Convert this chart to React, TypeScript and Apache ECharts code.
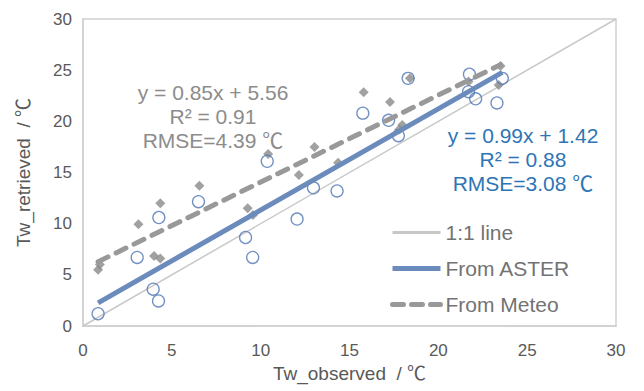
import React, { useEffect, useRef } from "react";
import * as echarts from "echarts";

const asterObserved = [0.85, 3.05, 3.95, 4.25, 4.27, 6.5, 9.15, 9.55, 10.37, 12.05, 12.97, 14.3, 15.75, 17.2, 17.75, 18.3, 21.75, 21.7, 22.1, 23.3, 23.6];
const asterRetrieved = [1.2, 6.7, 3.6, 2.45, 10.6, 12.15, 8.65, 6.7, 16.1, 10.45, 13.5, 13.2, 20.8, 20.1, 18.6, 24.2, 24.6, 22.9, 22.2, 21.8, 24.2];

const meteoObserved = [0.85, 0.95, 3.12, 4.0, 4.35, 4.35, 6.55, 9.27, 9.57, 10.42, 12.15, 13.03, 14.36, 15.8, 17.28, 17.8, 17.97, 18.4, 21.7, 23.4, 23.5];
const meteoRetrieved = [5.5, 6.0, 9.95, 6.85, 6.6, 12.0, 13.7, 11.5, 10.85, 16.8, 14.75, 17.5, 15.95, 22.85, 21.9, 19.2, 19.65, 24.2, 23.9, 23.55, 25.4];

const asterFit = { slope: 0.99, intercept: 1.42 };
const meteoFit = { slope: 0.85, intercept: 5.56 };

const oneToOne = [0, 30];
const ticks = { min: 0, max: 30, interval: 5 };

const grayText = ["y = 0.85x + 5.56", "R² = 0.91", "RMSE=4.39 ℃"];
const blueText = ["y = 0.99x + 1.42", "R² = 0.88", "RMSE=3.08 ℃"];

const FONT = "'Liberation Sans', Arial, 'Noto Sans CJK SC', sans-serif";

function fitLine(xs: number[], fit: { slope: number; intercept: number }) {
  const lo = Math.min(...xs);
  const hi = Math.max(...xs);
  return [lo, hi].map((x) => [x, fit.slope * x + fit.intercept]);
}

export default function App() {
  const ref = useRef<HTMLDivElement>(null);
  useEffect(() => {
    if (!ref.current) return;
    const chart = echarts.init(ref.current, undefined, { renderer: "svg" });
    const axisCommon = {
      type: "value" as const,
      min: ticks.min,
      max: ticks.max,
      interval: ticks.interval,
      splitLine: { show: false },
      axisTick: { show: false },
      axisLine: { show: true, lineStyle: { color: "#d0d0d0", width: 1.5 } },
      nameLocation: "middle" as const,
      nameTextStyle: { fontSize: 19, color: "#595959", fontFamily: FONT },
    };
    chart.setOption({
      animation: false,
      backgroundColor: "#ffffff",
      textStyle: { fontFamily: FONT },
      grid: {
        left: 83,
        right: 28,
        top: 19,
        bottom: 65,
        show: true,
        borderColor: "#d0d0d0",
        borderWidth: 1.5,
      },
      xAxis: {
        ...axisCommon,
        name: "Tw_observed  / ℃",
        nameGap: 38,
        axisLabel: { fontSize: 17, color: "#595959", margin: 16, fontFamily: FONT },
      },
      yAxis: {
        ...axisCommon,
        name: "Tw_retrieved  / ℃",
        nameGap: 50,
        axisLabel: { fontSize: 17, color: "#595959", margin: 11, fontFamily: FONT },
      },
      legend: {
        orient: "vertical",
        left: 385,
        top: 217,
        itemWidth: 48,
        itemHeight: 14,
        itemGap: 15,
        itemStyle: { opacity: 0 },
        data: [
          { name: "1:1 line", lineStyle: { width: 3 } },
          { name: "From ASTER", lineStyle: { width: 5 } },
          { name: "From Meteo", lineStyle: { width: 5, type: [11, 8], cap: "round" } },
        ],
        textStyle: { fontSize: 21, color: "#737373", fontFamily: FONT },
      },
      series: [
        {
          name: "1:1 line",
          type: "line",
          data: oneToOne.map((v) => [v, v]),
          symbol: "none",
          lineStyle: { color: "#c8c8c8", width: 1.5 },
          itemStyle: { color: "#c8c8c8" },
          z: 1,
        },
        {
          name: "ASTER points",
          type: "scatter",
          data: asterObserved.map((x, i) => [x, asterRetrieved[i]]),
          symbol: "circle",
          symbolSize: 12,
          itemStyle: { color: "rgba(255,255,255,0)", borderColor: "#4e74b3", borderWidth: 1.3 },
          z: 3,
        },
        {
          name: "Meteo points",
          type: "scatter",
          data: meteoObserved.map((x, i) => [x, meteoRetrieved[i]]),
          symbol: "diamond",
          symbolSize: 10,
          itemStyle: { color: "#8a8a8a" },
          z: 2,
        },
        {
          name: "From ASTER",
          type: "line",
          data: fitLine(asterObserved, asterFit),
          symbol: "none",
          lineStyle: { color: "#6a8bbb", width: 5 },
          itemStyle: { color: "#6a8bbb" },
          z: 4,
        },
        {
          name: "From Meteo",
          type: "line",
          data: fitLine(meteoObserved, meteoFit),
          symbol: "none",
          lineStyle: { color: "#999999", width: 5, type: [11, 9], cap: "round" },
          itemStyle: { color: "#999999" },
          z: 4,
        },
      ],
      graphic: [
        {
          type: "text",
          x: 213,
          y: 80,
          style: {
            text: grayText.join("\n"),
            fill: "#8c8c8c",
            fontSize: 21,
            lineHeight: 24,
            fontFamily: FONT,
            align: "center",
            verticalAlign: "top",
          },
        },
        {
          type: "text",
          x: 523,
          y: 123,
          style: {
            text: blueText.join("\n"),
            fill: "#2e75b6",
            fontSize: 21,
            lineHeight: 24,
            fontFamily: FONT,
            align: "center",
            verticalAlign: "top",
          },
        },
      ],
    });
    return () => chart.dispose();
  }, []);
  return <div ref={ref} style={{ width: 644, height: 391, position: "absolute", left: 0, top: 0 }} />;
}
